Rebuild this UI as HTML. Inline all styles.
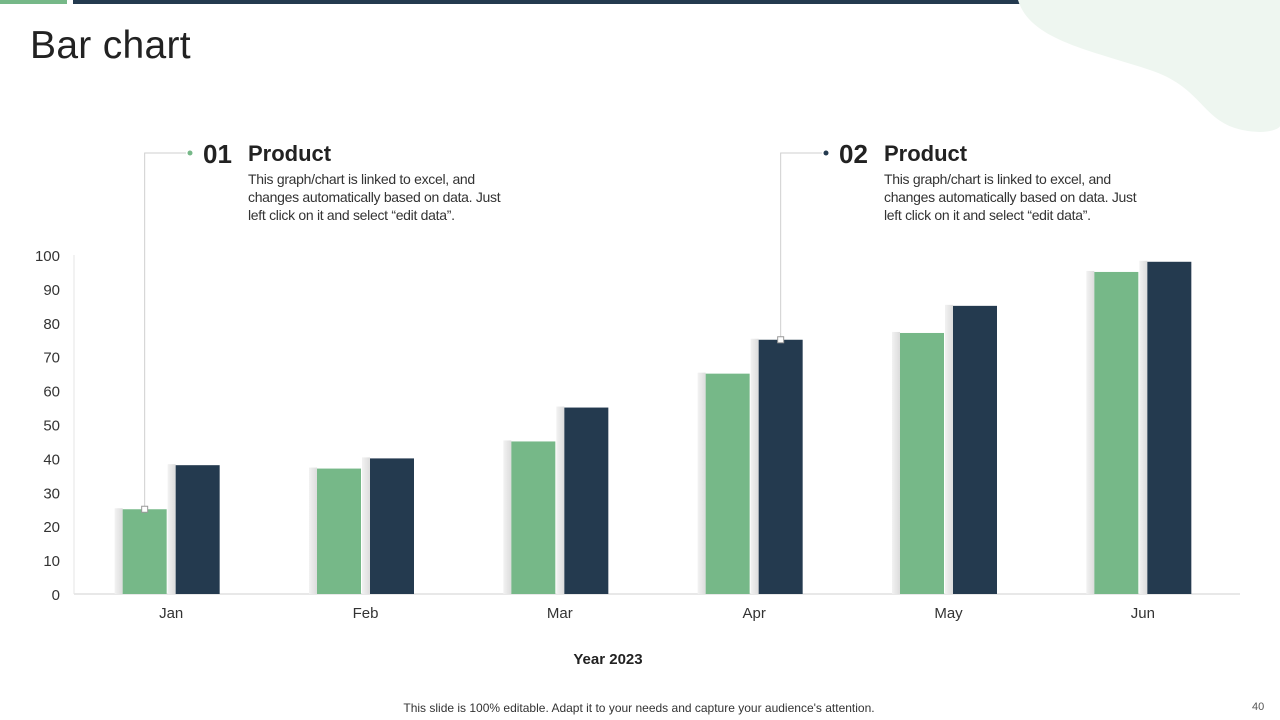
<!DOCTYPE html>
<html><head><meta charset="utf-8"><style>
body{margin:0;width:1280px;height:720px;overflow:hidden;background:#fff;font-family:"Liberation Sans",sans-serif;position:relative}
.abs{position:absolute}
.desc{position:absolute;left:45px;top:31px;white-space:nowrap;font-size:14px;letter-spacing:-0.3px;color:#333;line-height:18px}
</style></head><body>
<div class="abs" style="left:0;top:0;width:67px;height:4px;background:#76b888"></div>
<div class="abs" style="left:73px;top:0;width:1207px;height:4px;background:#243a4f"></div>
<svg class="abs" style="left:1010px;top:0" width="270" height="140"><path d="M8,0 C20,40 80,50 140,70 C200,90 190,130 250,132 C262,132 270,128 270,126 L270,0 Z" fill="#eef6f0"/></svg>
<div class="abs" style="left:30px;top:24px;font-size:39px;color:#222;font-weight:300;letter-spacing:0.3px">Bar chart</div>

<div class="abs" style="left:203px;top:139px">
<span style="font-size:26px;font-weight:bold;color:#222">01</span>
<div class="abs" style="left:45px;top:2px;font-size:22px;font-weight:bold;color:#222;white-space:nowrap">Product</div>
<div class="desc">This graph/chart is linked to excel, and<br>changes automatically based on data. Just<br>left click on it and select “edit data”.</div>
</div>
<div class="abs" style="left:839px;top:139px">
<span style="font-size:26px;font-weight:bold;color:#222">02</span>
<div class="abs" style="left:45px;top:2px;font-size:22px;font-weight:bold;color:#222;white-space:nowrap">Product</div>
<div class="desc">This graph/chart is linked to excel, and<br>changes automatically based on data. Just<br>left click on it and select “edit data”.</div>
</div>

<svg id="chart" class="abs" style="left:0;top:0" width="1280" height="720">
<defs><linearGradient id="sh" x1="0" x2="1" y1="0" y2="0"><stop offset="0" stop-color="#f2f2f2"/><stop offset="1" stop-color="#dcdcdc"/></linearGradient></defs>
</svg>

<div class="abs" style="left:0;width:1216px;top:651px;text-align:center;font-size:15px;font-weight:bold;color:#222">Year 2023</div>
<div class="abs" style="left:0;width:1278px;top:701px;text-align:center;font-size:12px;color:#333">This slide is 100% editable. Adapt it to your needs and capture your audience's attention.</div>
<div class="abs" style="left:1252px;top:701px;font-size:11px;color:#555">40</div>

<script>
const categories=["Jan","Feb","Mar","Apr","May","Jun"];
const series1=[25,37,45,65,77,95];
const series2=[38,40,55,75,85,98];
const yTicks=[0,10,20,30,40,50,60,70,80,90,100];
const NS="http://www.w3.org/2000/svg";
const svg=document.getElementById("chart");
const x0=74,x1=1240,yBase=594,yTop=255;
const y=v=>yBase-(yBase-yTop)*v/100;
const band=(x1-x0)/categories.length;
const cx=i=>x0+band*(i+0.5);
function mk(t,a){const e=document.createElementNS(NS,t);for(const k in a)e.setAttribute(k,a[k]);svg.appendChild(e);return e;}
yTicks.forEach(v=>{const t=mk("text",{x:60,y:y(v)+6,"text-anchor":"end","font-size":"15","fill":"#333","font-family":"Liberation Sans"});t.textContent=v;

});
const ax=mk("line",{x1:x0,x2:x1,y1:yBase,y2:yBase,stroke:"#d0d0d0","stroke-width":1});


const ax2=mk("line",{x1:x0,x2:x0,y1:yTop,y2:yBase,stroke:"#e6e6e6","stroke-width":1});


const bw=44,gap=9;
categories.forEach((c,i)=>{
 const xa=cx(i)-gap/2-bw, xb=cx(i)+gap/2;
 [[xa,series1[i],"#76b888"],[xb,series2[i],"#243a4f"]].forEach(([xx,v,col],k)=>{
  const s=mk("rect",{x:xx-8,y:y(v)-1,width:8,height:yBase-y(v)+1,fill:"url(#sh)"});
  
  
  const r=mk("rect",{x:xx,y:y(v),width:bw,height:yBase-y(v),fill:col});
  
  
 });
 const t=mk("text",{x:cx(i),y:618,"text-anchor":"middle","font-size":"15","fill":"#333","font-family":"Liberation Sans"});t.textContent=c;
 
 
});
function leader(i,serIdx,v,topY,endX,dotCol){
 const bx=serIdx?cx(i)+gap/2+bw/2:cx(i)-gap/2-bw/2;
 const p=mk("polyline",{points:`${bx},${y(v)} ${bx},${topY} ${endX},${topY}`,fill:"none",stroke:"#cfcfcf","stroke-width":1});
 
 
 const m=mk("rect",{x:bx-3,y:y(v)-3,width:6,height:6,fill:"#fff",stroke:"#999","stroke-width":1});
 
 
 const d=mk("circle",{cx:endX+4,cy:topY,r:2.5,fill:dotCol});
 
 
}
leader(0,0,series1[0],153,186,"#76b888");
leader(3,1,series2[3],153,822,"#243a4f");
</script>
</body></html>
